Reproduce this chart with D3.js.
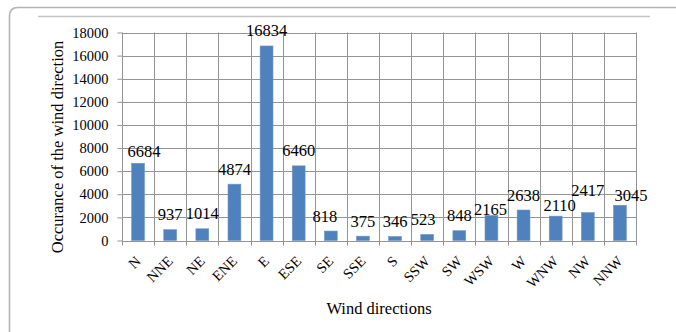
<!DOCTYPE html>
<html>
<head>
<meta charset="utf-8">
<script src="https://cdn.jsdelivr.net/npm/d3@7"></script>
<style>
  html, body { margin: 0; padding: 0; background: #fff; }
  svg { display: block; }
</style>
</head>
<body>
<svg id="chart" width="676" height="332"></svg>
<script>
// Wind direction occurrence counts
const directions = ["N", "NNE", "NE", "ENE", "E", "ESE", "SE", "SSE", "S", "SSW", "SW", "WSW", "W", "WNW", "NW", "NNW"];
const occurrences = [6684, 937, 1014, 4874, 16834, 6460, 818, 375, 346, 523, 848, 2165, 2638, 2110, 2417, 3045];
const yTicks = [0, 2000, 4000, 6000, 8000, 10000, 12000, 14000, 16000, 18000];
const yTitle = "Occurance of the wind direction";
const xTitle = "Wind directions";

const serif = "Liberation Serif";

const svg = d3.select("#chart");
const plot = { left: 122, right: 636, top: 32.5, bottom: 240.5 };

const x = d3.scaleBand()
  .domain(directions)
  .range([plot.left, plot.right])
  .paddingInner(0.6)
  .paddingOuter(0.3);

const y = d3.scaleLinear()
  .domain([0, 18000])
  .range([plot.bottom, plot.top]);

// Outer panel border with rounded top-left corner
svg.append("path")
  .attr("d", "M9.5,332 L9.5,16 Q9.5,7.5 18,7.5 L676,7.5")
  .attr("fill", "none")
  .attr("stroke", "#b4b4b4")
  .attr("stroke-width", 1.6);

// Rule under the panel header
svg.append("line")
  .attr("x1", 38).attr("x2", 650)
  .attr("y1", 16.5).attr("y2", 16.5)
  .attr("stroke", "#c4c4c4")
  .attr("stroke-width", 1.6);

const gridColor = "#959595";

// Horizontal gridlines with y ticks
const yAxis = d3.axisLeft(y)
  .tickValues(yTicks)
  .tickSize(4.5)
  .tickPadding(9)
  .tickFormat(d3.format("d"));

const gy = svg.append("g")
  .attr("transform", `translate(${plot.left},0)`)
  .call(yAxis);
gy.select(".domain").remove();
gy.selectAll(".tick line").attr("stroke", gridColor);
gy.selectAll(".tick text")
  .attr("fill", "#000")
  .style("font-family", serif)
  .style("font-size", "14.5px");

svg.append("g")
  .selectAll("line")
  .data(yTicks)
  .join("line")
  .attr("x1", plot.left).attr("x2", plot.right)
  .attr("y1", d => Math.round(y(d)) + 0.5)
  .attr("y2", d => Math.round(y(d)) + 0.5)
  .attr("stroke", gridColor)
  .attr("stroke-width", 1);

// Vertical gridlines on category boundaries, extended below the axis as ticks
const boundaries = d3.range(directions.length + 1).map(i => x.range()[0] + i * x.step());
svg.append("g")
  .selectAll("line")
  .data(boundaries)
  .join("line")
  .attr("x1", d => Math.round(d) + 0.5)
  .attr("x2", d => Math.round(d) + 0.5)
  .attr("y1", plot.top)
  .attr("y2", plot.bottom + 5)
  .attr("stroke", gridColor)
  .attr("stroke-width", 1);

// Bars
svg.append("g")
  .selectAll("rect")
  .data(directions)
  .join("rect")
  .attr("x", d => x(d))
  .attr("width", x.bandwidth())
  .attr("y", (d, i) => y(occurrences[i]))
  .attr("height", (d, i) => y(0) - y(occurrences[i]))
  .attr("fill", "#4f81bd")
  .attr("stroke", "#6f96c8")
  .attr("stroke-width", 0.6);

// Value labels above each bar; a few are nudged so neighbours don't collide
const labelNudge = {
  N: [6, 3], SE: [-6, 0], SSW: [-4, 0], WSW: [-1, 9],
  WNW: [4, 4], NW: [0, -7], NNW: [11, 5]
};
svg.append("g")
  .selectAll("text")
  .data(directions)
  .join("text")
  .attr("x", (d, i) => x(d) + x.bandwidth() / 2 + (labelNudge[d] ? labelNudge[d][0] : 0))
  .attr("y", (d, i) => y(occurrences[i]) - 9.5 + (labelNudge[d] ? labelNudge[d][1] : 0))
  .attr("text-anchor", "middle")
  .style("font-family", serif)
  .style("font-size", "16.5px")
  .text((d, i) => occurrences[i]);

// Category labels, rotated 45 degrees
svg.append("g")
  .selectAll("text")
  .data(directions)
  .join("text")
  .attr("transform", d => `translate(${x(d) + x.bandwidth() / 2 + 3.5},262) rotate(-45)`)
  .attr("text-anchor", "end")
  .style("font-family", serif)
  .style("font-size", "14.5px")
  .text(d => d);

// Axis titles
svg.append("text")
  .attr("transform", `translate(63,147) rotate(-90)`)
  .attr("text-anchor", "middle")
  .style("font-family", serif)
  .style("font-size", "16.5px")
  .text(yTitle);

svg.append("text")
  .attr("x", (plot.left + plot.right) / 2)
  .attr("y", 314)
  .attr("text-anchor", "middle")
  .style("font-family", serif)
  .style("font-size", "16.5px")
  .text(xTitle);
</script>
</body>
</html>
